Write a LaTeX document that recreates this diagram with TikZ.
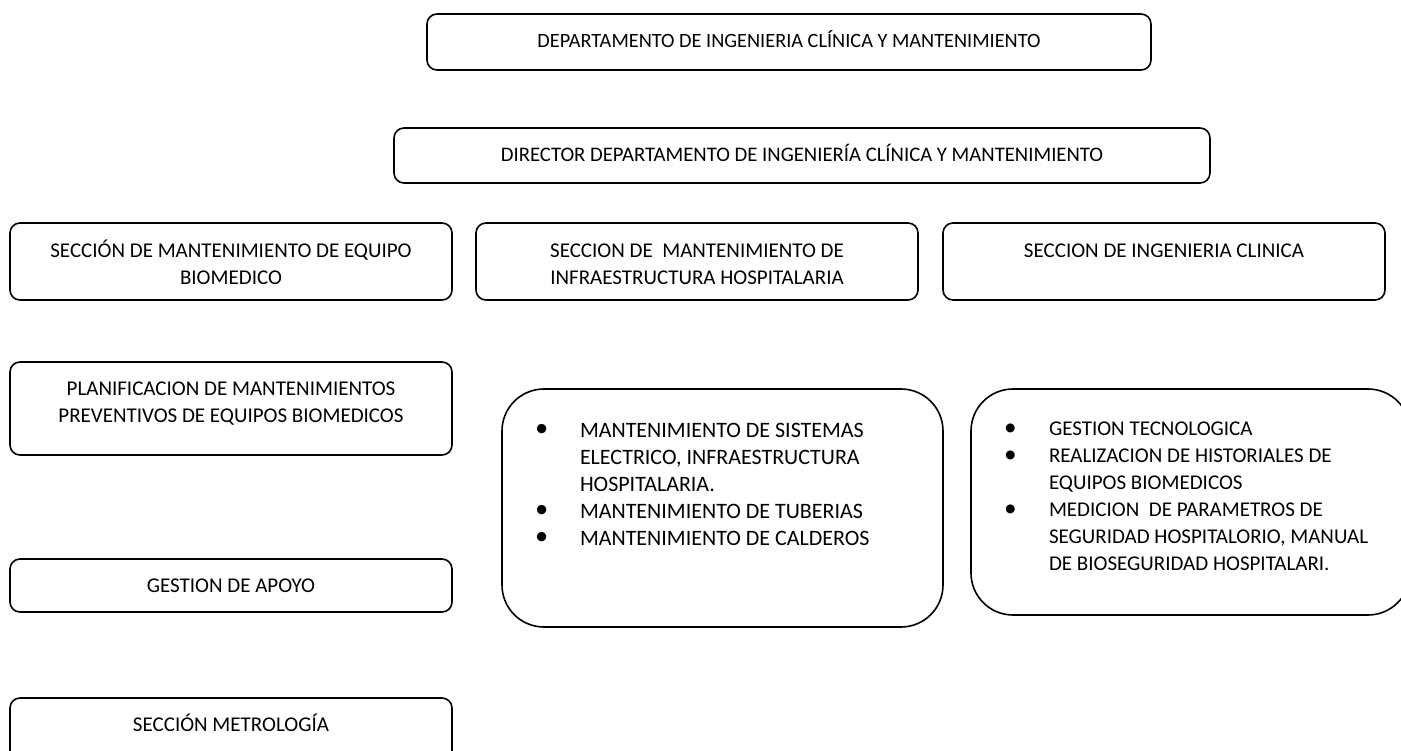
\documentclass[tikz,border=0pt]{standalone}
\usepackage{fontspec}
\setmainfont{Carlito}
\newcommand\bxt[4]{\parbox[c][#2][t]{#1}{\vspace*{#3}\centering\strut #4\par}}
\newcommand\lstbox[4]{\parbox[c][#2][t]{#1}{\vspace*{#3}\leftskip=33pt\relax #4\par}}
\newcommand\mybul{\raisebox{0.8pt}{\scalebox{1.2}{\textbullet}}}
\newcommand\itm{\par\hangindent=45pt\hangafter=1\noindent\strut\makebox[45pt][l]{\mybul}}
\begin{document}
\begin{tikzpicture}[x=1pt,y=-1pt,
  every node/.style={font=\fontsize{21}{27}\selectfont},
  box/.style={draw, line width=1.6pt, rounded corners=10pt, inner sep=0pt},
  bigbox/.style={draw, line width=1.6pt, rounded corners=42pt, inner sep=0pt}]
\useasboundingbox (0,0) rectangle (1401,751);
\clip (0,0) rectangle (1401,751);
\node[box, font=\fontsize{20.3}{27}\selectfont] (dep) at (789,42) {\bxt{724pt}{56pt}{14.2pt}{DEPARTAMENTO DE INGENIERIA CLÍNICA Y MANTENIMIENTO}};
\node[box, font=\fontsize{20.7}{27}\selectfont] (dir) at (802,155.5) {\bxt{816pt}{55pt}{14.8pt}{DIRECTOR DEPARTAMENTO DE INGENIERÍA CLÍNICA Y MANTENIMIENTO}};
\node[box] (sa) at (231,261.5) {\bxt{442pt}{77pt}{15.9pt}{SECCIÓN DE MANTENIMIENTO DE EQUIPO\\BIOMEDICO}};
\node[box] (sb) at (697,261.5) {\bxt{442pt}{77pt}{15.9pt}{SECCION DE~ MANTENIMIENTO DE\\INFRAESTRUCTURA HOSPITALARIA}};
\node[box] (sc) at (1164,261.5) {\bxt{442pt}{77pt}{15.9pt}{SECCION DE INGENIERIA CLINICA}};
\node[box] (plan) at (231,408.5) {\bxt{442pt}{93pt}{14.4pt}{PLANIFICACION DE MANTENIMIENTOS\\PREVENTIVOS DE EQUIPOS BIOMEDICOS}};
\node[box] (apoyo) at (231,585.5) {\bxt{442pt}{53pt}{14.9pt}{GESTION DE APOYO}};
\node[box] (metro) at (231,744) {\bxt{442pt}{92pt}{14.4pt}{SECCIÓN METROLOGÍA}};
\node[bigbox, font=\fontsize{22}{27}\selectfont] (lb) at (722.5,508) {\lstbox{441pt}{238pt}{29.2pt}{%
  \itm MANTENIMIENTO DE SISTEMAS\\ELECTRICO, INFRAESTRUCTURA\\HOSPITALARIA.
  \itm MANTENIMIENTO DE TUBERIAS
  \itm MANTENIMIENTO DE CALDEROS}};
\node[bigbox] (lc) at (1190.5,502) {\lstbox{439pt}{226pt}{27.9pt}{%
  \itm GESTION TECNOLOGICA
  \itm REALIZACION DE HISTORIALES DE\\EQUIPOS BIOMEDICOS
  \itm MEDICION~ DE PARAMETROS DE\\SEGURIDAD HOSPITALORIO, MANUAL\\DE BIOSEGURIDAD HOSPITALARI.}};
\end{tikzpicture}
\end{document}
